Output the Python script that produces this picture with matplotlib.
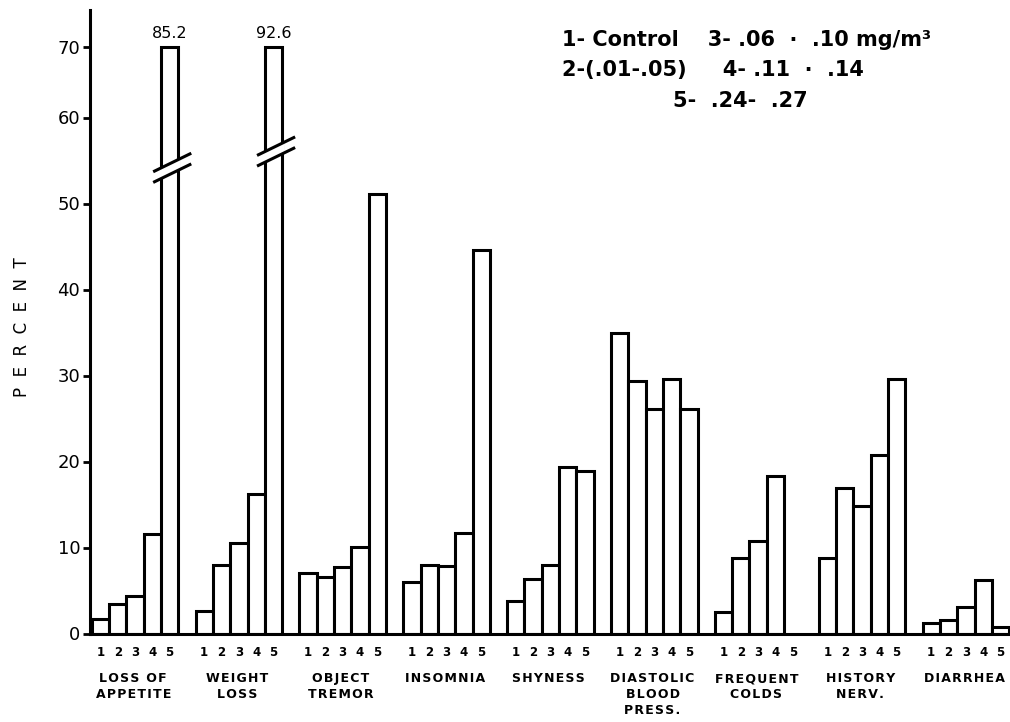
import numpy as np
import matplotlib
matplotlib.use("Agg")
import matplotlib.pyplot as plt
from matplotlib.patches import Polygon

# ---------------- data ----------------
categories = ["LOSS OF\nAPPETITE", "WEIGHT\nLOSS", "OBJECT\nTREMOR", "INSOMNIA",
              "SHYNESS", "DIASTOLIC\nBLOOD\nPRESS.", "FREQUENT\nCOLDS",
              "HISTORY\nNERV.", "DIARRHEA"]
group_ticks = ["1", "2", "3", "4", "5"]
# percent for exposure groups 1..5 (nan = no bar)
g1 = [1.7, 2.6, 7.0, 6.0, 3.8, 34.9, 2.5, 8.8, 1.2]
g2 = [3.4, 8.0, 6.6, 8.0, 6.3, 29.4, 8.8, 16.9, 1.6]
g3 = [4.4, 10.5, 7.7, 7.8, 8.0, 26.1, 10.8, 14.8, 3.1]
g4 = [11.6, 16.2, 10.1, 11.7, 19.4, 29.6, 18.3, 20.7, 6.2]
g5 = [85.2, 92.6, 51.1, 44.6, 18.9, 26.1, np.nan, 29.6, 0.8]
yticks = [0, 10, 20, 30, 40, 50, 60, 70]
legend_lines = ["1- Control    3- .06  ·  .10 mg/m³",
                "2-(.01-.05)     4- .11  ·  .14",
                "5-  .24-  .27"]

# ---------------- styling / layout ----------------
W, H = 1010, 722
fig = plt.figure(figsize=(W / 100, H / 100), dpi=100)
ax = fig.add_axes([90 / W, (H - 633.5) / H, 920 / W, (633.5 - 10) / H])

BREAK = 60.0
COMP = 0.82
CAP = 70.0


def fwd(y):
    y = np.asarray(y, dtype=float)
    return np.where(y <= BREAK, y, BREAK + (y - BREAK) * COMP)


def inv(z):
    z = np.asarray(z, dtype=float)
    return np.where(z <= BREAK, z, BREAK + (z - BREAK) / COMP)


ax.set_yscale("function", functions=(fwd, inv))

series = [g1, g2, g3, g4, g5]
lw = 2.2
step = 6
centers = []
for gi in range(len(categories)):
    for si, s in enumerate(series):
        v = s[gi]
        x = gi * step + si + 0.5
        centers.append(x)
        if np.isnan(v):
            continue
        h = min(v, CAP)
        ax.bar(x, h, width=1.0, facecolor="white", edgecolor="black",
               linewidth=lw, zorder=2)
        if v > CAP:
            ax.annotate(f"{v:.1f}", xy=(x, CAP), xytext=(0, 4),
                        textcoords="offset points", ha="center", va="bottom",
                        fontsize=11.5, family="DejaVu Sans")

# axis-break marks on the truncated bars
break_centers = {0: 54.0, 1: 55.9}
slope = 0.98
for gi, yc in break_centers.items():
    xm = gi * step + 4 + 0.5
    xa, xb = xm - 0.95, xm + 1.25
    gap = 0.62
    poly = Polygon([(xm - 0.62, yc - gap + (-0.62) * slope),
                    (xm + 0.62, yc - gap + 0.62 * slope),
                    (xm + 0.62, yc + gap + 0.62 * slope),
                    (xm - 0.62, yc + gap + (-0.62) * slope)],
                   closed=True, facecolor="white", edgecolor="none", zorder=3)
    ax.add_patch(poly)
    for sgn in (-1, 1):
        ax.plot([xa, xb],
                [yc + sgn * gap + (xa - xm) * slope, yc + sgn * gap + (xb - xm) * slope],
                color="black", lw=lw, zorder=4, solid_capstyle="butt")

ax.set_xlim(-0.1, 53.05)
ax.set_ylim(0, inv(72.5).item())

for sp in ["top", "right"]:
    ax.spines[sp].set_visible(False)
ax.spines["left"].set_linewidth(lw)
ax.spines["bottom"].set_linewidth(lw)

ax.set_yticks(yticks)
ax.set_yticklabels([str(t) for t in yticks], fontsize=13, family="DejaVu Sans")
ax.tick_params(axis="y", length=5, width=2, pad=2)
ax.set_xticks(centers)
ax.set_xticklabels(group_ticks * len(categories), fontsize=8.5, fontweight="bold")
ax.tick_params(axis="x", length=0, pad=9)

HS = "\u200a"
for gi, name in enumerate(categories):
    spaced = "\n".join(HS.join(line) for line in name.split("\n"))
    ax.annotate(spaced, xy=(gi * step + 2.4, 0), xycoords=("data", "axes fraction"),
                xytext=(0, -28), textcoords="offset points", ha="center", va="top",
                fontsize=9, fontweight="bold", linespacing=1.3)

fig.text(22 / W, 1 - 327 / H, "P  E  R  C  E  N  T", rotation=90, ha="center",
         va="center", fontsize=12)

fig.text(562 / W, 1 - 40 / H, legend_lines[0], ha="left", va="center",
         fontsize=15, fontweight="bold")
fig.text(562 / W, 1 - 70 / H, legend_lines[1], ha="left", va="center",
         fontsize=15, fontweight="bold")
fig.text(740 / W, 1 - 101 / H, legend_lines[2], ha="center", va="center",
         fontsize=15, fontweight="bold")

fig.savefig("out.png", dpi=100, facecolor="white")
